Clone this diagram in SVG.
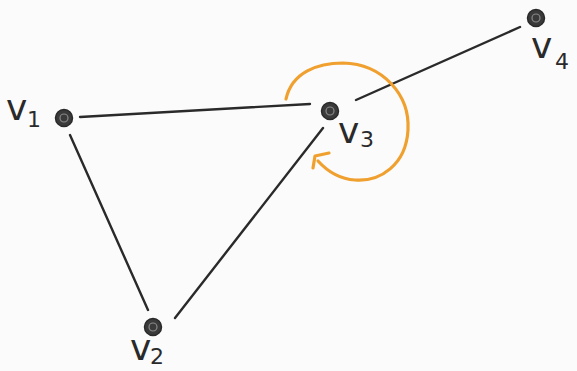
<svg xmlns="http://www.w3.org/2000/svg" width="577" height="371" viewBox="0 0 577 371">
<style>
.edge{stroke:#2a2a2a;stroke-width:2.4;stroke-linecap:round;fill:none}
.node{fill:#3a3a3a;stroke:#2a2a2a;stroke-width:1.5}
.inner{fill:none;stroke:#8a8a8a;stroke-width:1.2}
.lbl{font-family:"DejaVu Sans","Liberation Sans",sans-serif;fill:#2a2a2a}
.v{font-size:36px}
.sub{font-size:22px}
.rot{stroke:#F0A02E;stroke-width:3.2;fill:none;stroke-linecap:round;stroke-linejoin:round}
</style>
<rect width="577" height="371" fill="#fbfbfb"/>
<g id="connectors">
<line class="edge" x1="80" y1="117" x2="310" y2="104"/>
<line class="edge" x1="70" y1="135" x2="148" y2="310"/>
<line class="edge" x1="175" y1="318" x2="323" y2="128"/>
<line class="edge" x1="356" y1="100" x2="520" y2="27"/>
</g>
<g id="rotation">
<path class="rot" d="M 286,99 C 292,72 318,63 343,63 C 383,64 410,95 408,130 C 406,165 380,182 355,180 C 340,179 328,172 318,161"/>
<polyline class="rot" points="313,168 315,156 329,153"/>
</g>
<g id="v1">
<circle class="node" cx="64" cy="118" r="8.5"/>
<circle class="inner" cx="64" cy="118" r="4"/>
<text class="lbl v" x="6" y="120">v</text>
<text class="lbl sub" x="27" y="127">1</text>
</g>
<g id="v2">
<circle class="node" cx="153" cy="327" r="8.5"/>
<circle class="inner" cx="153" cy="327" r="4"/>
<text class="lbl v" x="130" y="360">v</text>
<text class="lbl sub" x="150" y="364">2</text>
</g>
<g id="v3">
<circle class="node" cx="330" cy="111" r="8.5"/>
<circle class="inner" cx="330" cy="111" r="4"/>
<text class="lbl v" x="338" y="143">v</text>
<text class="lbl sub" x="360" y="147">3</text>
</g>
<g id="v4">
<circle class="node" cx="536" cy="18" r="8.5"/>
<circle class="inner" cx="536" cy="18" r="4"/>
<text class="lbl v" x="531" y="58">v</text>
<text class="lbl sub" x="555" y="69">4</text>
</g>
</svg>
